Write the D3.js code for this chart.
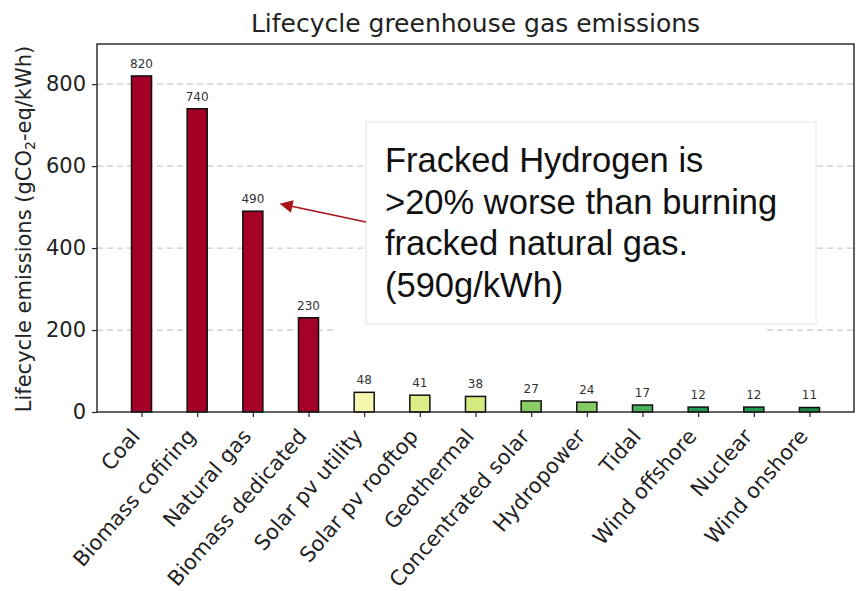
<!DOCTYPE html>
<html>
<head>
<meta charset="utf-8">
<script src="https://cdn.jsdelivr.net/npm/d3@7"></script>
<style>
  html, body { margin: 0; padding: 0; background: #fff; }
  svg { display: block; }
</style>
</head>
<body>
<svg id="chart" width="857" height="591"></svg>
<script>
const categories = ["Coal", "Biomass cofiring", "Natural gas", "Biomass dedicated", "Solar pv utility",
  "Solar pv rooftop", "Geothermal", "Concentrated solar", "Hydropower", "Tidal",
  "Wind offshore", "Nuclear", "Wind onshore"];
const values = [820, 740, 490, 230, 48, 41, 38, 27, 24, 17, 12, 12, 11];
const barColors = ["#a50026", "#a50026", "#a50026", "#a50026", "#f6f7b0", "#dcee88", "#d3ea80",
  "#8acd66", "#86ca64", "#4caf5c", "#1f9a50", "#1f9a50", "#1a8c47"];
const yTicks = [0, 200, 400, 600, 800];
const gridTicks = [200, 400, 600, 800];
const titleText = "Lifecycle greenhouse gas emissions";
const noteLines = ["Fracked Hydrogen is", ">20% worse than burning", "fracked natural gas.", "(590g/kWh)"];

const svg = d3.select("#chart");
const L = 97, R = 854, T = 44, B = 412;
const x = d3.scaleLinear().domain([-0.8, categories.length - 0.2]).range([L, R]);
const y = d3.scaleLinear().domain([0, 898]).range([B, T]);
const barW = 0.36;
const font = "DejaVu Sans, sans-serif";

// gridlines
svg.append("g").selectAll("line").data(gridTicks).join("line")
  .attr("x1", L).attr("x2", R)
  .attr("y1", d => y(d)).attr("y2", d => y(d))
  .attr("stroke", "#c9c9c9").attr("stroke-width", 1.2)
  .attr("stroke-dasharray", "6,4");

// bars
svg.append("g").selectAll("rect").data(values).join("rect")
  .attr("x", (d, i) => x(i - barW / 2))
  .attr("width", x(barW) - x(0))
  .attr("y", d => y(d))
  .attr("height", d => y(0) - y(d))
  .attr("fill", (d, i) => barColors[i])
  .attr("stroke", "#111").attr("stroke-width", 1.5);

// value labels
svg.append("g").selectAll("text").data(values).join("text")
  .attr("x", (d, i) => x(i))
  .attr("y", d => y(d) - 8)
  .attr("text-anchor", "middle")
  .attr("font-family", font).attr("font-size", 12)
  .attr("fill", "#333")
  .text(d => d);

// axes
const yAxis = d3.axisLeft(y).tickValues(yTicks).tickSize(5).tickPadding(6).tickFormat(d3.format("d"));
const gy = svg.append("g").attr("transform", `translate(${L},0)`).call(yAxis);
gy.select(".domain").remove();
gy.selectAll("text").attr("font-family", font).attr("font-size", 21).attr("fill", "#222");
gy.selectAll("line").attr("stroke", "#222").attr("stroke-width", 1.2);

const xAxis = d3.axisBottom(x).tickValues(d3.range(categories.length)).tickSize(5).tickFormat(i => categories[i]);
const gx = svg.append("g").attr("transform", `translate(0,${B})`).call(xAxis);
gx.select(".domain").remove();
gx.selectAll("line").attr("stroke", "#222").attr("stroke-width", 1.2);
gx.selectAll("text")
  .attr("font-family", font).attr("font-size", 21).attr("fill", "#222")
  .attr("text-anchor", "end")
  .attr("dy", null).attr("y", null)
  .attr("transform", "translate(-1,25) rotate(-49)");

// frame
svg.append("rect").attr("x", L).attr("y", T).attr("width", R - L).attr("height", B - T)
  .attr("fill", "none").attr("stroke", "#222").attr("stroke-width", 1.4);

// title
svg.append("text").attr("x", (L + R) / 2).attr("y", 32)
  .attr("text-anchor", "middle").attr("font-family", font).attr("font-size", 25).attr("fill", "#222")
  .text(titleText);

// y label
const yl = svg.append("text")
  .attr("transform", `translate(31,${(T + B) / 2 + 1}) rotate(-90)`)
  .attr("text-anchor", "middle").attr("font-family", font).attr("font-size", 21).attr("fill", "#222");
yl.append("tspan").text("Lifecycle emissions (gCO");
yl.append("tspan").attr("font-size", 14).attr("dy", 4).text("2");
yl.append("tspan").attr("dy", -4).text("-eq/kWh)");

// white patch covering part of the 200 gridline (pasted annotation background)
svg.append("rect").attr("x", 333).attr("y", 322).attr("width", 432).attr("height", 14).attr("fill", "#fff");

// annotation box
svg.append("rect").attr("x", 366).attr("y", 122).attr("width", 450).attr("height", 202)
  .attr("fill", "#fff").attr("stroke", "#e6e6e6").attr("stroke-width", 1.2);
svg.append("g").selectAll("text").data(noteLines).join("text")
  .attr("x", 385).attr("y", (d, i) => 172 + i * 41.5)
  .attr("font-family", "Liberation Sans, Arial, sans-serif").attr("font-size", 34.5).attr("fill", "#111")
  .text(d => d);

// arrow
svg.append("defs").append("marker").attr("id", "ah")
  .attr("viewBox", "0 0 10 10").attr("refX", 9).attr("refY", 5)
  .attr("markerWidth", 9).attr("markerHeight", 8).attr("orient", "auto")
  .append("path").attr("d", "M0,0 L10,5 L0,10 Z").attr("fill", "#a8121a");
svg.append("line").attr("x1", 366).attr("y1", 222).attr("x2", 281).attr("y2", 204)
  .attr("stroke", "#a8121a").attr("stroke-width", 1.6).attr("marker-end", "url(#ah)");
</script>
</body>
</html>
